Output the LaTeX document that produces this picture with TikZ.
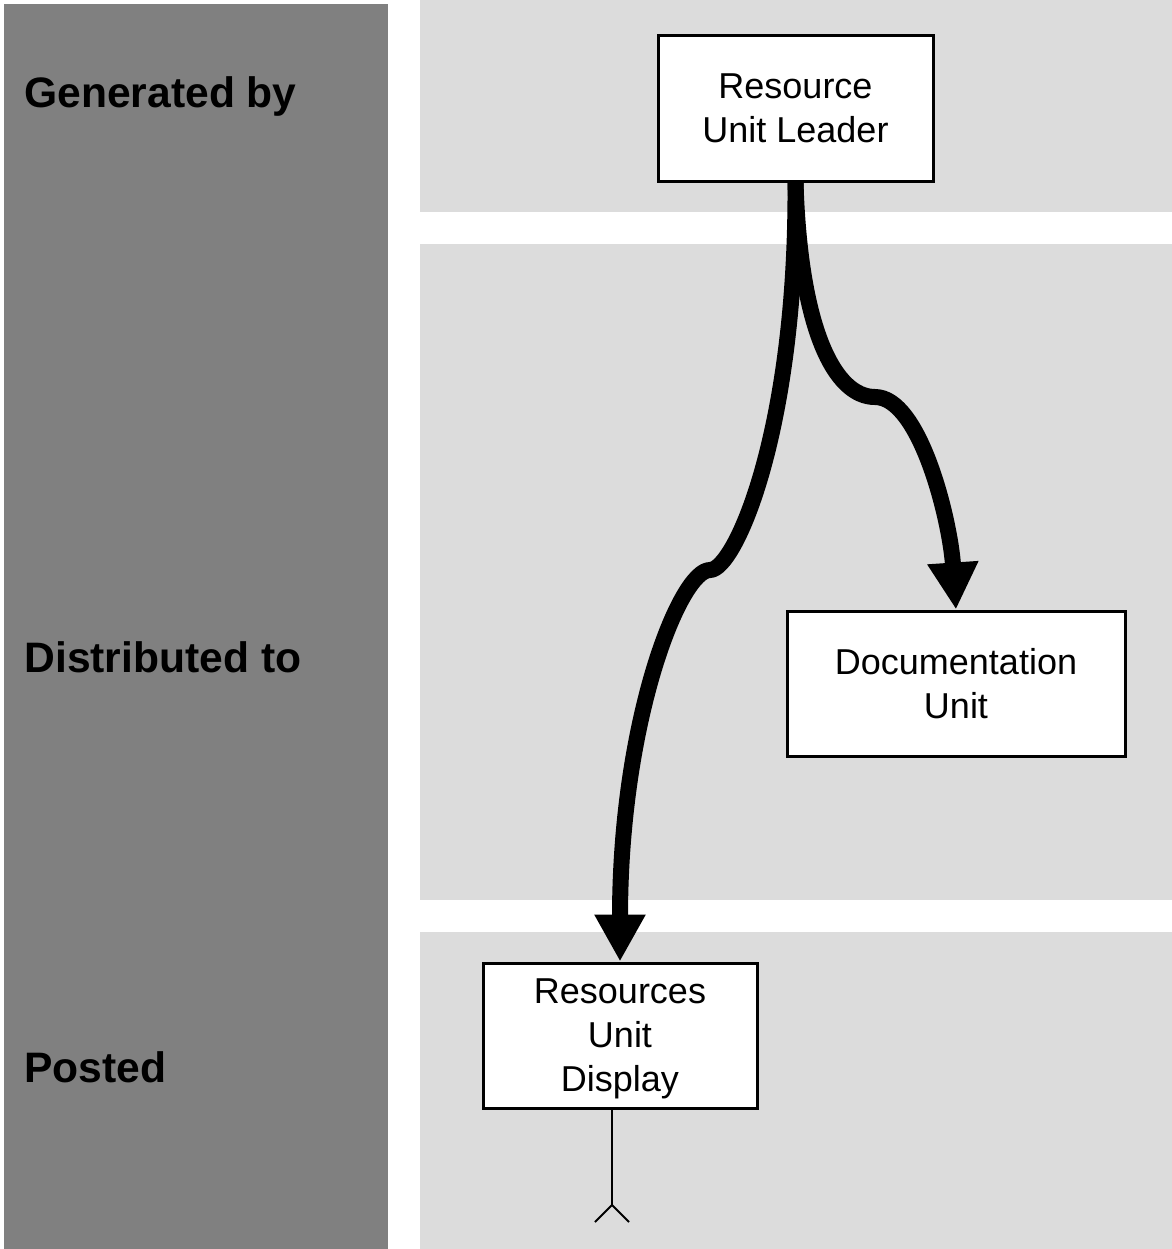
\documentclass[tikz,border=0pt]{standalone}
\usepackage{fontspec}
\setmainfont{Liberation Sans}
\usetikzlibrary{arrows.meta, positioning}
\definecolor{lanedark}{HTML}{808080}
\definecolor{lanelight}{HTML}{DCDCDC}

\begin{document}
\begin{tikzpicture}[x=0.5pt, y=-0.5pt, >={Triangle[width=24pt, length=23.5pt]},
  lane/.style={font=\bfseries\fontsize{21.3}{26}\selectfont, anchor=base west, inner sep=0pt},
  unit/.style={draw, line width=1.5pt, fill=white, align=center, inner sep=0pt,
    font=\fontsize{18}{22}\selectfont},
  flow/.style={->, line width=8pt, line join=round}]
\useasboundingbox (0,0) rectangle (1172,1249);

% Define lanes
\fill[lanedark] (4,4) rectangle (388,1249);
\fill[lanelight] (420,0) rectangle (1172,212);
\fill[lanelight] (420,244) rectangle (1172,900);
\fill[lanelight] (420,932) rectangle (1172,1249);

\node[lane] (gen) at (24,107) {Generated by};
\node[lane] (dist) at (24,672) {Distributed to};
\node[lane] (post) at (24,1082) {Posted};

% Define units
\node[unit, minimum width=137.5pt, minimum height=73pt] (RUL) at (795.5,108) {Resource\\Unit Leader};
\node[unit, minimum width=169pt, minimum height=72.5pt] (DU) at (956,683.5) {Documentation\\Unit};
\node[unit, minimum width=137pt, minimum height=72.5pt, text depth=0pt] (RUD) at (620,1035.5) {Resources\\Unit\\Display};

% Curved flows with a step in the middle
\coordinate (bendL) at (710,570);
\coordinate (bendR) at (875,397);
\draw[flow] (RUL.south) .. controls (797,430) and (735,570) .. (bendL)
  .. controls (680,570) and (620,720) .. (RUD.north);
\draw[flow] (RUL.south) .. controls (800,330) and (835,397) .. (bendR)
  .. controls (920,397) and (950,520) .. (DU.north);

% Posting line below the display
\coordinate (tail) at (612,1205);
\draw[line width=1pt] (RUD.south -| tail) -- (tail);
\draw[line width=1pt] (tail) -- ++(-17,17) (tail) -- ++(17,17);

\end{tikzpicture}
\end{document}
